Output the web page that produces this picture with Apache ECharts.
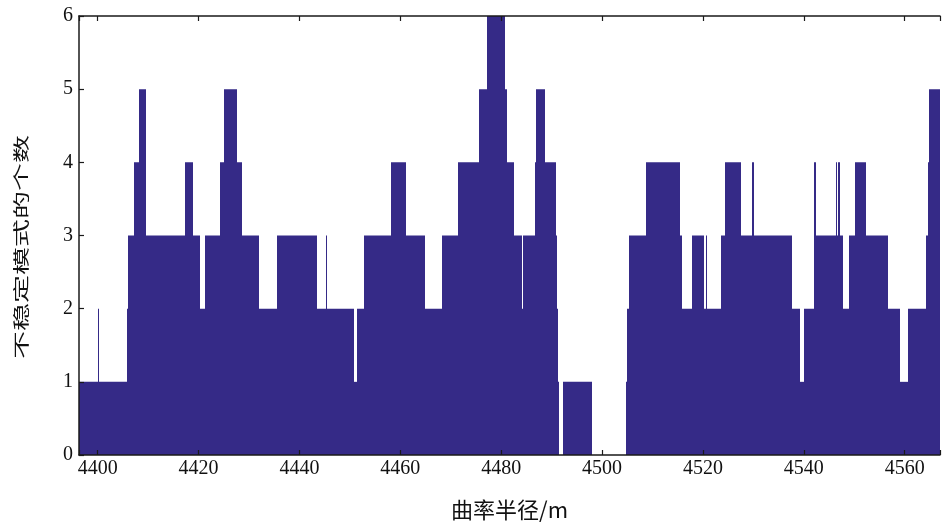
<!DOCTYPE html>
<html>
<head>
<meta charset="utf-8">
<script src="https://cdn.jsdelivr.net/npm/echarts@6/dist/echarts.min.js"></script>
<style>
  html, body { margin: 0; padding: 0; background: #fff; }
  #main { width: 943px; height: 526px; }
</style>
</head>
<body>
<div id="main"></div>
<script>
// step edges (curvature radius, m); the last one closes the final step
const edges = [4396.3, 4400.0, 4400.2, 4405.8, 4406.0, 4407.2, 4408.1, 4409.5, 4417.3, 4418.9,
  4420.3, 4421.3, 4424.3, 4425.0, 4427.6, 4428.6, 4431.9, 4435.5, 4443.4, 4445.2,
  4445.5, 4450.8, 4451.4, 4452.9, 4458.1, 4461.2, 4464.8, 4468.2, 4471.4, 4475.6,
  4477.1, 4480.8, 4481.1, 4482.6, 4484.2, 4484.4, 4486.7, 4486.9, 4488.7, 4490.8,
  4491.0, 4491.2, 4491.4, 4492.3, 4498.0, 4504.7, 4505.0, 4505.4, 4508.8, 4515.5,
  4515.8, 4517.8, 4520.3, 4520.6, 4520.8, 4523.6, 4524.4, 4527.6, 4529.7, 4530.2,
  4537.7, 4539.3, 4540.0, 4542.1, 4542.4, 4546.4, 4546.6, 4546.8, 4547.2, 4547.7,
  4548.9, 4550.2, 4552.4, 4556.7, 4559.1, 4560.7, 4564.3, 4564.6, 4564.8, 4567];
// number of unstable modes on each step
const counts = [1, 2, 1, 2, 3, 4, 5, 3, 4, 3,
  2, 3, 4, 5, 4, 3, 2, 3, 2, 3,
  2, 1, 2, 3, 4, 3, 2, 3, 4, 5,
  6, 5, 4, 3, 2, 3, 4, 5, 4, 3,
  2, 1, 0, 1, 0, 1, 2, 3, 4, 3,
  2, 3, 2, 3, 2, 3, 4, 3, 4, 3,
  2, 1, 2, 4, 3, 4, 3, 4, 3, 2,
  3, 4, 3, 2, 1, 2, 3, 4, 5];
const xTicks = [4400, 4420, 4440, 4460, 4480, 4500, 4520, 4540, 4560];
const yTicks = [0, 1, 2, 3, 4, 5, 6];

const xMin = 4396.3;
const xMax = 4567;
const barColor = '#352a87';
const axisColor = '#1a1a1a';
const serif = '"Liberation Serif", "DejaVu Serif", serif';

const steps = counts.map((c, i) => [edges[i], edges[i + 1], c]);

const myChart = echarts.init(document.getElementById('main'), null, { renderer: 'canvas' });

const option = {
  backgroundColor: '#fff',
  animation: false,
  grid: { left: 79, top: 16, width: 873, height: 440 },
  xAxis: [
    {
      type: 'value',
      min: xMin,
      max: xMax,
      minInterval: 20,
      maxInterval: 20,
      z: 10,
      name: '曲率半径/m',
      nameLocation: 'middle',
      nameGap: 44,
      nameTextStyle: {
        fontFamily: '"Noto Sans CJK SC", "Liberation Serif", serif',
        fontSize: 22,
        color: '#111',
      },
      axisLine: { show: true, lineStyle: { color: axisColor, width: 1.5 } },
      axisTick: { show: true, inside: true, length: 5, lineStyle: { color: axisColor, width: 1.2 } },
      axisLabel: {
        margin: 4,
        fontFamily: serif,
        fontSize: 20,
        color: '#111',
        formatter: (v) => (xTicks.includes(Math.round(v * 10) / 10) ? String(v) : ''),
      },
      splitLine: { show: false },
    },
    {
      type: 'value',
      position: 'top',
      min: xMin,
      max: xMax,
      minInterval: 20,
      maxInterval: 20,
      z: 10,
      axisLine: { show: true, lineStyle: { color: axisColor, width: 1.5 } },
      axisTick: { show: true, inside: true, length: 5, lineStyle: { color: axisColor, width: 1.2 } },
      axisLabel: { show: false },
      splitLine: { show: false },
    },
  ],
  yAxis: {
    type: 'value',
    min: yTicks[0],
    max: yTicks[yTicks.length - 1],
    interval: 1,
    z: 10,
    axisLine: { show: true, lineStyle: { color: axisColor, width: 1.5 } },
    axisTick: { show: true, inside: true, length: 5, lineStyle: { color: axisColor, width: 1.2 } },
    axisLabel: {
      margin: 6,
      fontFamily: serif,
      fontSize: 20,
      color: '#111',
    },
    splitLine: { show: false },
  },
  graphic: [
    {
      type: 'text',
      x: 21,
      y: 247,
      rotation: Math.PI / 2,
      scaleX: 1.75,
      style: {
        text: '不稳定模式的个数',
        fontFamily: '"Noto Sans CJK SC", sans-serif',
        fontSize: 16,
        fill: '#111',
        textAlign: 'center',
        textVerticalAlign: 'middle',
      },
    },
  ],
  series: [
    {
      type: 'custom',
      clip: true,
      data: steps,
      encode: { x: [0, 1], y: 2 },
      renderItem: function (params, api) {
        const v = api.value(2);
        if (!v) return;
        const p0 = api.coord([api.value(0), 0]);
        const p1 = api.coord([api.value(1), v]);
        // snap the step edges to whole pixels so neighbouring steps join without seams
        const left = Math.round(p0[0]);
        const right = Math.max(left + 1, Math.round(p1[0]));
        return {
          type: 'rect',
          shape: { x: left, y: p1[1], width: right - left, height: p0[1] - p1[1] },
          style: { fill: barColor },
        };
      },
      z: 2,
    },
  ],
};

myChart.setOption(option);
</script>
</body>
</html>
